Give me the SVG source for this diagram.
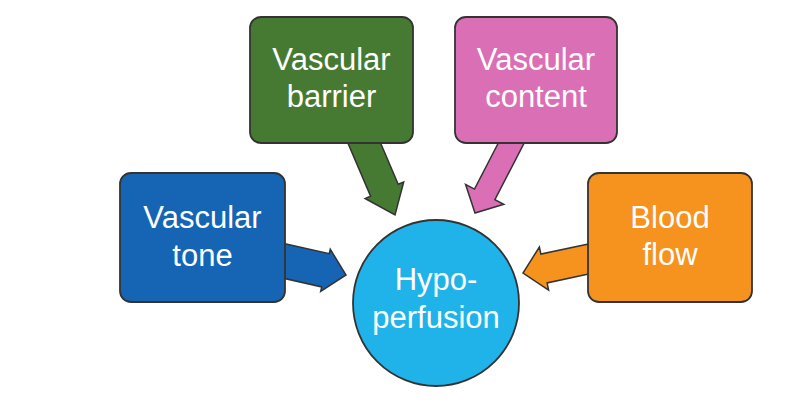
<svg xmlns="http://www.w3.org/2000/svg" width="797" height="403" viewBox="0 0 797 403">
<style>
.box{stroke:#333;stroke-width:1.8}
.arr{stroke:#333;stroke-width:1.5;stroke-linejoin:miter}
.t{font-family:"Liberation Sans",Arial,sans-serif;font-size:31px;fill:#fff;text-anchor:middle}
.blue{fill:#1565B4}.green{fill:#467A33}.pink{fill:#DA6FB5}.orange{fill:#F6921E}.cyan{fill:#20B3EA}
</style>
<rect width="797" height="403" fill="#fff"/>
<g id="connectors">
<polygon class="arr blue" points="283.8,243.4 329.3,253.7 330.3,249.3 346,275 320.7,291.3 321.7,286.9 276.2,276.6"/>
<polygon class="arr green" points="373.4,126.3 398.2,184.3 403.7,182 395,215 365.1,198.5 370.6,196.1 345.8,138.1"/>
<polygon class="arr pink" points="507.1,126 474.5,189.1 465.6,184.5 475,213 503.8,204.3 494.9,199.7 527.5,136.6"/>
<polygon class="arr orange" points="593.2,242.9 540.9,254.1 539.4,247 523,273 548.6,290 547.1,282.9 599.4,271.7"/>
</g>
<g id="vascular-tone">
<rect class="box blue" x="120" y="173" width="165" height="129" rx="11"/>
<text class="t" x="202.5" y="228">Vascular</text>
<text class="t" x="202.5" y="266">tone</text>
</g>
<g id="vascular-barrier">
<rect class="box green" x="250" y="17" width="163" height="126" rx="11"/>
<text class="t" x="331.5" y="70">Vascular</text>
<text class="t" x="331.5" y="107">barrier</text>
</g>
<g id="vascular-content">
<rect class="box pink" x="455" y="17" width="162" height="126" rx="11"/>
<text class="t" x="536" y="70">Vascular</text>
<text class="t" x="536" y="107">content</text>
</g>
<g id="blood-flow">
<rect class="box orange" x="588" y="173" width="164" height="129" rx="11"/>
<text class="t" x="670" y="228">Blood</text>
<text class="t" x="670" y="265">flow</text>
</g>
<g id="hypoperfusion">
<circle class="box cyan" cx="436" cy="303" r="83"/>
<text class="t" x="436" y="290">Hypo-</text>
<text class="t" x="436" y="328">perfusion</text>
</g>
</svg>
